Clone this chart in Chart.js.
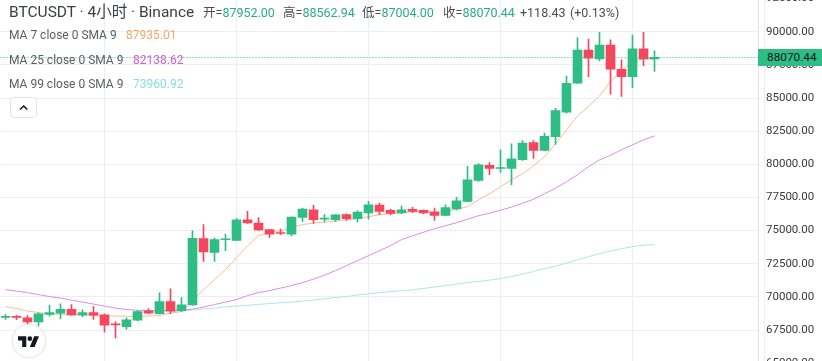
<!DOCTYPE html>
<html><head><meta charset="utf-8">
<script src="https://cdn.jsdelivr.net/npm/chart.js@4.4.1/dist/chart.umd.min.js"></script>
<style>
html,body{margin:0;padding:0;width:822px;height:361px;overflow:hidden;background:#fff;font-family:Roboto,"Noto Sans CJK SC",sans-serif;}
#wrap{position:absolute;left:0;top:-30px;width:822px;height:430px;}
.t{position:absolute;white-space:nowrap;}
.g{color:#2aae80;}
.hd{font-size:12.5px;line-height:18px;top:4px;color:#4a4d56;}
.lg{font-size:12px;line-height:16px;color:#5a5d66;}
</style></head><body>
<div id="wrap"><canvas id="c" width="822" height="430"></canvas></div>

<div class="t" style="left:9px;top:2px;font-size:15.5px;line-height:20px;color:#3b3e47">BTCUSDT · 4小时 · Binance</div>
<div class="t hd" style="left:203px">开=<span class="g">87952.00</span></div>
<div class="t hd" style="left:283px">高=<span class="g">88562.94</span></div>
<div class="t hd" style="left:362px">低=<span class="g">87004.00</span></div>
<div class="t hd" style="left:443px">收=<span class="g">88070.44</span></div>
<div class="t hd g" style="left:520px">+118.43</div>
<div class="t hd g" style="left:570px">(+0.13%)</div>

<div class="t lg" style="left:9px;top:27px">MA 7 close 0 SMA 9</div>
<div class="t lg" style="left:126px;top:27px;color:#f2a867">87935.01</div>
<div class="t lg" style="left:9px;top:51.5px">MA 25 close 0 SMA 9</div>
<div class="t lg" style="left:133px;top:51.5px;color:#d35fd3">82138.62</div>
<div class="t lg" style="left:9px;top:75.5px">MA 99 close 0 SMA 9</div>
<div class="t lg" style="left:133px;top:75.5px;color:#86e1dc">73960.92</div>

<div style="position:absolute;left:10px;top:97px;width:25px;height:19px;border:1px solid #e0e3eb;border-radius:4px;background:#fff;"></div>
<svg style="position:absolute;left:0;top:0" width="60" height="130"><polyline points="20,109.5 23.7,106 27.3,109.5" fill="none" stroke="#131722" stroke-width="1.6"/></svg>

<div style="position:absolute;left:12px;top:323.5px;width:32px;height:32px;border-radius:50%;background:#fff;border:1px solid #e8e8e8;box-shadow:0 0 3px rgba(0,0,0,0.08);"></div>
<svg style="position:absolute;left:18.3px;top:333.6px" width="21.3" height="16.5" viewBox="0 0 36 28"><path d="M14 22H7V11H0V4h14v18zM28 22h-8l7.5-18h8L28 22z" fill="#131722"/><circle cx="20" cy="8" r="4" fill="#131722"/></svg>

<div id="pbox" class="t" style="left:758px;width:64px;height:17px;background:#2ebd85;color:#131722;font-size:11.8px;line-height:17px;text-indent:9px;">88070.44</div>

<script>
// candle data (4h BTCUSDT), oldest -> newest
const opens  = [68460,68500,68420,68120,68670,68770,69070,68650,68820,68640,67960,67760,68240,68950,68740,69650,68970,69400,74390,73360,74310,74260,75820,75570,75070,74800,74740,75990,76570,75860,75820,76200,75900,76330,76930,76520,76330,76600,76520,76400,76150,76630,77200,78780,79930,79680,79680,80340,81640,81040,82090,83930,86110,88620,87940,89000,87170,86610,88700,87952];
const highs  = [68660,68610,68590,68800,69370,69470,69420,69020,69270,68720,68120,68420,68970,69120,70300,70600,69950,74990,75450,74440,74740,75900,76450,75990,75080,75120,76040,76700,76900,76200,76200,76270,76500,77200,77080,76630,76850,76750,76570,76700,76950,77500,79840,80060,80130,81090,81540,81790,81790,82350,84230,86660,89560,89450,89960,89380,87870,89750,89960,88562.94];
const lows   = [68310,68290,67990,67820,68540,68340,68620,68490,68310,67340,66910,67560,68180,68740,68690,68740,68890,69380,72680,72680,73490,74240,75550,74990,74490,74690,74590,75690,75540,75650,75690,75770,75650,75870,76200,76180,76270,76350,76250,75770,76120,76550,77180,78700,79210,79380,78460,80290,80440,81000,81490,83860,86100,86610,87790,85290,85110,85780,87440,87004];
const closes = [68520,68460,68120,68720,68820,69070,68650,68820,68620,67860,67890,68270,68890,68770,69650,68920,69400,74410,73390,74320,74340,75820,75570,75050,74740,74780,76020,76630,75820,75900,76180,75900,76400,76950,76450,76300,76570,76450,76330,76150,76730,77250,78830,79960,79680,79720,80410,81600,81040,82110,84050,86110,88620,88000,89000,87170,86610,88700,87952,88070.44];
// moving averages
const ma7  = [69270,69119,68931,68818,68721,68683,68652,68622,68592,68577,68555,68540,68540,68555,68592,68781,68894,69722,70549,71303,72056,72960,73863,74616,74842,74993,75256,75445,75573,75633,75708,75821,75896,76047,76197,76273,76348,76423,76423,76401,76446,76612,76799,77327,77779,78306,78833,79285,79885,80565,81544,82598,83652,84353,85158,86250,87100,87750,87950,87935.01];
const ma25 = [70550,70437,70324,70173,70023,69910,69759,69609,69458,69307,69157,69044,68991,68968,68968,68968,68991,69082,69232,69421,69609,69797,70098,70324,70475,70663,70852,71077,71341,71642,71981,72357,72734,73110,73487,73863,74315,74616,74880,75143,75369,75595,75858,76122,76311,76537,76777,77063,77364,77779,78193,78683,79210,79812,80339,80678,81092,81469,81845,82138.62];
const ma99 = [null,null,null,null,null,null,null,null,null,null,null,null,null,null,null,68909,68931,69006,69082,69157,69247,69307,69367,69427,69496,69556,69616,69684,69767,69857,69948,70038,70136,70234,70324,70400,70475,70535,70641,70738,70852,70964,71077,71175,71265,71378,71529,71717,71920,72131,72319,72545,72809,73035,73261,73449,73637,73788,73900,73960.92];
const yTickStep = 2500;
const timeGridIdx = [9,21,33,45,57,69];

const GREEN = '#2ebd85', RED = '#f6465d';
const N = closes.length;
const idx = closes.map((_, i) => i);
const colors = idx.map(i => closes[i] >= opens[i] ? GREEN : RED);

const priceLine = {
  id: 'priceLine',
  afterDatasetsDraw(c) {
    const ctx = c.ctx, a = c.chartArea;
    const y = Math.round(c.scales.y.getPixelForValue(closes[N - 1])) + 0.5;
    ctx.save();
    ctx.strokeStyle = GREEN; ctx.lineWidth = 1; ctx.setLineDash([1, 2]);
    ctx.beginPath(); ctx.moveTo(a.left, y); ctx.lineTo(a.right, y); ctx.stroke();
    ctx.restore();
  }
};

const lineDs = (arr, color, order) => ({
  type: 'line', data: idx.map(i => ({x: i, y: arr[i]})), borderColor: color,
  borderWidth: 1, pointRadius: 0, tension: 0, order: order, spanGaps: false
});

const chart = new Chart(document.getElementById('c'), {
  type: 'bar',
  data: {
    datasets: [
      lineDs(ma99, '#a9e8e9', 5),
      lineDs(ma25, '#d98ee0', 4),
      lineDs(ma7, '#f3bf93', 3),
      { type: 'bar', data: idx.map(i => ({x: i, y: [lows[i], highs[i]]})), backgroundColor: colors,
        barThickness: 1, grouped: false, order: 2, borderWidth: 0 },
      { type: 'bar', data: idx.map(i => ({x: i, y: [opens[i], closes[i]]})), backgroundColor: colors,
        barThickness: 9, grouped: false, minBarLength: 1, order: 1, borderWidth: 0 }
    ]
  },
  options: {
    responsive: false, animation: false,
    layout: {padding: {left: 0, right: 8, top: 0, bottom: 0}},
    plugins: {legend: {display: false}, tooltip: {enabled: false}},
    scales: {
      x: {
        type: 'linear', min: -0.5, max: 68.4, offset: false,
        ticks: {display: false},
        grid: {color: '#eceef1', drawTicks: false, offset: false},
        border: {display: false},
        afterBuildTicks: s => { s.ticks = timeGridIdx.map(v => ({value: v})); }
      },
      y: {
        position: 'right', min: 62000, max: 95000,
        afterFit: s => { s.width = 56; },
        afterBuildTicks: s => {
          const t = [];
          for (let v = Math.ceil(s.min / yTickStep) * yTickStep; v <= s.max; v += yTickStep) t.push({value: v});
          s.ticks = t;
        },
        ticks: {crossAlign: 'near', padding: 8,
          color: '#3a3a3a', font: {family: 'Roboto', size: 11.5},
          callback: v => Number(v).toFixed(2)},
        grid: {color: '#eceef1', drawTicks: false},
        border: {display: true, color: '#e0e3e8'}
      }
    }
  },
  plugins: [priceLine]
});

function fit() {
  const a = chart.chartArea;
  const k = 0.01326, Y0 = 31.7 + 30;
  chart.options.scales.y.max = 90000 + (Y0 - a.top) / k;
  chart.options.scales.y.min = 90000 - (a.bottom - Y0) / k;
  chart.options.scales.x.min = (a.left - 5.5) / 11;
  chart.options.scales.x.max = (a.right - 5.5) / 11;
  chart.update('none');
}
fit(); fit();
const py = chart.scales.y.getPixelForValue(closes[N - 1]) - 30;
document.getElementById('pbox').style.top = (py - 8.5) + 'px';
</script>
</body></html>
